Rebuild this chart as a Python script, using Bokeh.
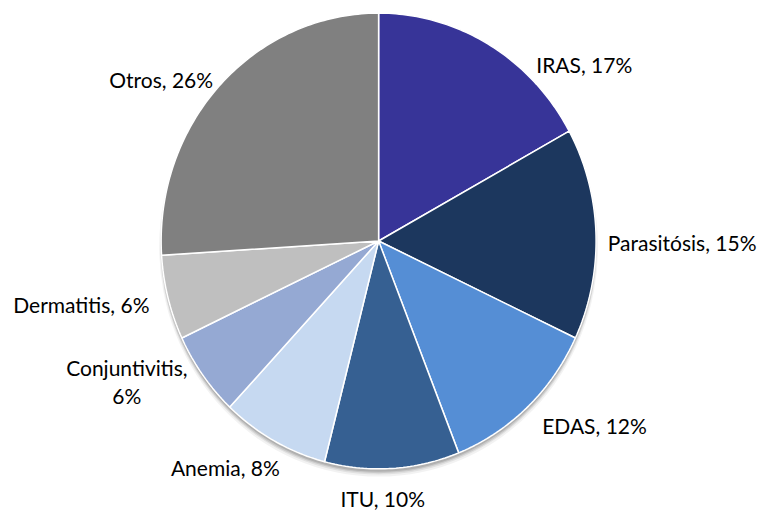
import numpy as np
from bokeh.plotting import figure
from bokeh.models import Range1d, ColumnDataSource
from bokeh.core.properties import value
from bokeh.embed import file_html
from bokeh.resources import INLINE

# ---- data ----
categories = ["IRAS", "Parasitósis", "EDAS", "ITU", "Anemia", "Conjuntivitis", "Dermatitis", "Otros"]
percents = [17, 15, 12, 10, 8, 6, 6, 26]
colors = ["#373498", "#1C375E", "#558ED5", "#366092", "#C6D9F1", "#95A9D3", "#BFBFBF", "#808080"]
label_texts = ["IRAS, 17%", "Parasitósis, 15%", "EDAS, 12%", "ITU, 10%", "Anemia, 8%",
               "Conjuntivitis,\n6%", "Dermatitis, 6%", "Otros, 26%"]

# ---- layout (reference-image coordinates, y downward -> negated) ----
W, H = 767, 512
cx, cy = 386, 248
rx, ry = 222, 235
label_x = [547, 620, 553, 347, 174, 129, 13, 111]
label_y = [66, 250, 438, 514, 482, 393, 313, 81]
label_align = ["left", "left", "left", "left", "left", "center", "left", "left"]

p = figure(width=W, height=H, output_backend="svg", toolbar_location=None,
           x_range=Range1d(0, 783), y_range=Range1d(-528, 0),
           min_border=0, background_fill_color="white", border_fill_color="white")
p.axis.visible = False
p.grid.visible = False
p.outline_line_color = None

# shadow
for off, a, grow in [(6, 0.05, 4), (5, 0.07, 2), (4, 0.10, 1), (3, 0.12, 0)]:
    p.ellipse(x=[cx], y=[-(cy + off)], width=[2 * rx + grow], height=[2 * ry + grow],
              fill_color="#000000", fill_alpha=a, line_color=None)

# slices (clockwise from top, parametric ellipse angles)
fr = np.array(percents, dtype=float) / sum(percents)
ends = np.cumsum(fr)
starts = ends - fr
xs, ys = [], []
for s, e in zip(starts, ends):
    t = np.linspace(s, e, max(8, int(400 * (e - s))))
    ang = np.pi / 2 - 2 * np.pi * t
    px = cx + rx * np.cos(ang)
    py = cy - ry * np.sin(ang)
    xs.append(np.concatenate([[cx], px]).tolist())
    ys.append((-np.concatenate([[cy], py])).tolist())

src = ColumnDataSource(dict(xs=xs, ys=ys, color=colors, cat=categories))
p.patches("xs", "ys", source=src, fill_color="color", line_color="white", line_width=1.5)

# labels
lsrc = ColumnDataSource(dict(x=label_x, y=[-v for v in label_y], text=label_texts, align=label_align))
p.text(x="x", y="y", text="text", source=lsrc, text_align="align", text_baseline="middle",
       text_font=value("Lato"), text_font_size="21px", text_color="#000000",
       text_line_height=1.1)

open("out.html", "w").write(file_html(p, INLINE))
